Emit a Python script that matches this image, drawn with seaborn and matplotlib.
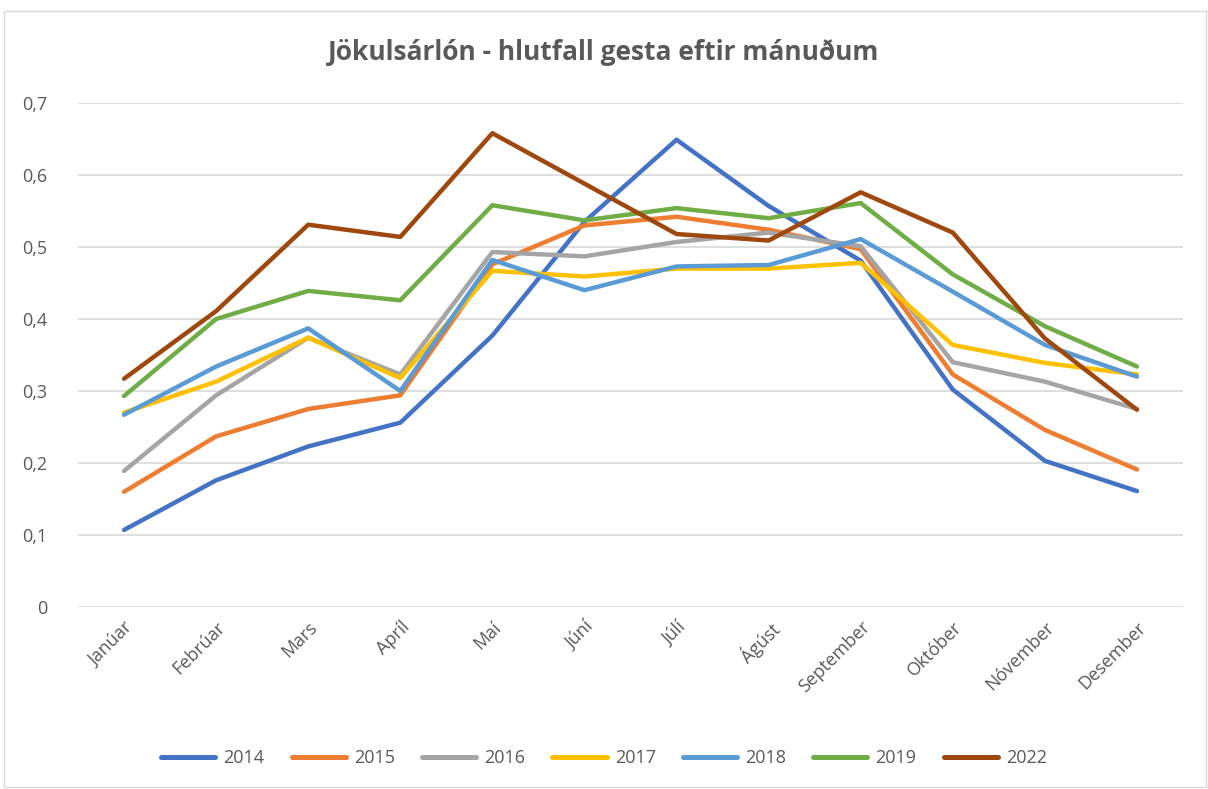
import matplotlib
matplotlib.use("Agg")
import matplotlib.pyplot as plt
import seaborn as sns
import pandas as pd
from matplotlib.patches import Rectangle
from matplotlib.ticker import FuncFormatter, MultipleLocator

months = ["Janúar", "Febrúar", "Mars", "Apríl", "Maí", "Júní", "Júlí",
          "Ágúst", "September", "Október", "Nóvember", "Desember"]
years = ["2014", "2015", "2016", "2017", "2018", "2019", "2022"]

v2014 = [0.107, 0.176, 0.223, 0.256, 0.377, 0.535, 0.649, 0.557, 0.481, 0.302, 0.203, 0.161]
v2015 = [0.160, 0.237, 0.275, 0.294, 0.476, 0.530, 0.542, 0.524, 0.497, 0.323, 0.246, 0.191]
v2016 = [0.189, 0.294, 0.374, 0.323, 0.493, 0.487, 0.507, 0.520, 0.501, 0.340, 0.313, 0.275]
v2017 = [0.270, 0.313, 0.374, 0.318, 0.467, 0.459, 0.470, 0.470, 0.478, 0.364, 0.339, 0.323]
v2018 = [0.267, 0.334, 0.387, 0.300, 0.482, 0.440, 0.473, 0.475, 0.511, 0.438, 0.364, 0.320]
v2019 = [0.293, 0.400, 0.439, 0.426, 0.558, 0.537, 0.554, 0.540, 0.561, 0.462, 0.390, 0.334]
v2022 = [0.317, 0.411, 0.531, 0.514, 0.658, 0.588, 0.518, 0.509, 0.576, 0.520, 0.373, 0.274]

series = [v2014, v2015, v2016, v2017, v2018, v2019, v2022]
colors = ["#4472C4", "#ED7D31", "#A5A5A5", "#FFC000", "#5B9BD5", "#70AD47", "#9E480E"]

rows = []
for y, vals in zip(years, series):
    for i, v in enumerate(vals):
        rows.append({"idx": i, "month": months[i], "year": y, "value": v})
df = pd.DataFrame(rows)

sns.set_theme(style="white")
plt.rcParams["font.family"] = ["Open Sans", "DejaVu Sans"]

fig = plt.figure(figsize=(12.08, 7.89), dpi=100)
ax = fig.add_axes([78 / 1208, 1 - 607 / 789, (1183 - 78) / 1208, (607 - 103) / 789])

sns.lineplot(data=df, x="idx", y="value", hue="year", hue_order=years,
             palette=dict(zip(years, colors)), linewidth=3.2, ax=ax,
             sort=False, legend=True)

ax.set_xlim(-0.5, 11.5)
ax.set_ylim(0, 0.7)
ax.yaxis.set_major_locator(MultipleLocator(0.1))
ax.yaxis.set_major_formatter(FuncFormatter(
    lambda v, p: "0" if abs(v) < 1e-9 else f"{v:.1f}".replace(".", ",")))
ax.set_xticks(range(len(months)))
ax.set_xticklabels(months, rotation=45, ha="right", rotation_mode="anchor")
ax.grid(axis="y", color="#D9D9D9", linewidth=1.2)
ax.set_axisbelow(True)
for s in ax.spines.values():
    s.set_visible(False)
ax.tick_params(axis="both", length=0, labelsize=13, colors="#595959")
ax.tick_params(axis="x", pad=8)
ax.tick_params(axis="y", pad=22)
ax.set_xlabel("")
ax.set_ylabel("")

handles, labels = ax.get_legend_handles_labels()
ax.get_legend().remove()
leg = fig.legend(handles, labels, loc="center", bbox_to_anchor=(0.5, 1 - 758 / 789),
                 ncol=7, frameon=False, fontsize=13, handlelength=3.0,
                 columnspacing=1.5, handletextpad=0.45)
for t in leg.get_texts():
    t.set_color("#595959")
for h in leg.legend_handles:
    h.set_linewidth(3.6)

fig.text(0.5, 1 - 52 / 789, "Jökulsárlón - hlutfall gesta eftir mánuðum",
         ha="center", va="center", fontsize=19, fontweight="bold", color="#595959")

fig.patches.append(Rectangle((4 / 1208, 2 / 789), 1 - 6 / 1208, 1 - 13 / 789,
                             transform=fig.transFigure, fill=False,
                             edgecolor="#D9D9D9", linewidth=1))

fig.savefig("out.png", dpi=100)
